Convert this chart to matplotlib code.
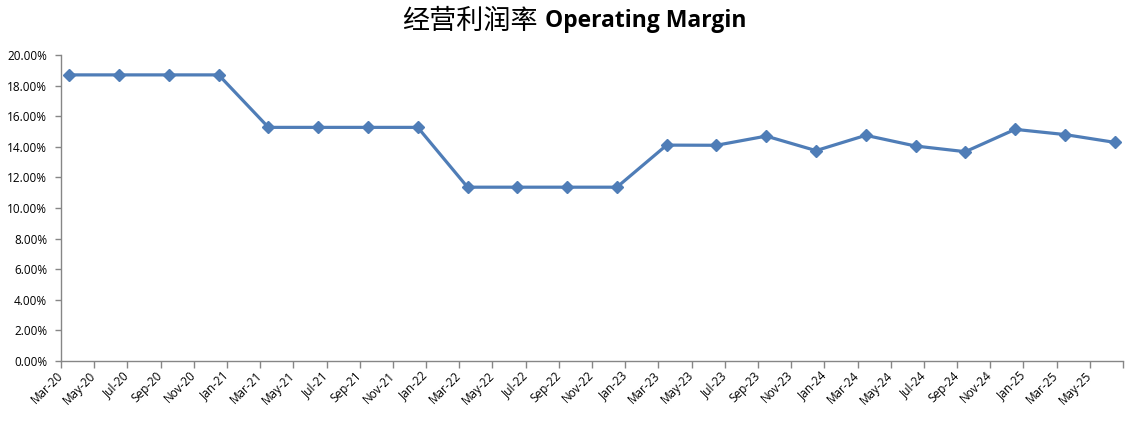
import matplotlib
matplotlib.use("Agg")
import matplotlib.pyplot as plt
import matplotlib.ticker as mticker
import matplotlib.transforms as mtrans
import pandas as pd

# ---- data ----
quarters = ["2020-03", "2020-06", "2020-09", "2020-12",
            "2021-03", "2021-06", "2021-09", "2021-12",
            "2022-03", "2022-06", "2022-09", "2022-12",
            "2023-03", "2023-06", "2023-09", "2023-12",
            "2024-03", "2024-06", "2024-09", "2024-12",
            "2025-03", "2025-06"]
operating_margin = [0.1870, 0.1870, 0.1870, 0.1870,
                    0.1527, 0.1527, 0.1527, 0.1527,
                    0.1136, 0.1136, 0.1136, 0.1136,
                    0.1411, 0.1410, 0.1470, 0.1375,
                    0.1475, 0.1405, 0.1368, 0.1514,
                    0.1480, 0.1429]
axis_start = "2020-03"
axis_end = "2025-07"
tick_step_months = 2
title_cn = "经营利润率"
title_en = "Operating Margin"

# ---- positions in month units (Excel date axis, base unit = month) ----
start = pd.Period(axis_start, freq="M")
end = pd.Period(axis_end, freq="M")
xs = [(pd.Period(q, freq="M") - start).n + 0.5 for q in quarters]
n_months = (end - start).n
tick_pos = list(range(0, n_months + 1, tick_step_months))
tick_labels = [(start + p).strftime("%b-%y") for p in tick_pos]
tick_labels[-1] = ""

fig = plt.figure(figsize=(11.33, 4.21), dpi=100)
ax = fig.add_axes([61 / 1133, 1 - 361 / 421, (1123 - 61) / 1133, (361 - 55) / 421])

ax.plot(xs, operating_margin, color="#4F7DB7", lw=2.3, marker="D", ms=6,
        markerfacecolor="#4F7DB7", markeredgecolor="#4F7DB7", zorder=3)

ax.set_xlim(0, n_months)
ax.set_ylim(0, 0.20)
ax.yaxis.set_major_locator(mticker.MultipleLocator(0.02))
ax.yaxis.set_major_formatter(mticker.FuncFormatter(lambda v, p: f"{v*100:.2f}%"))
ax.set_xticks(tick_pos)
ax.set_xticklabels(tick_labels, rotation=45, ha="right", va="center",
                   rotation_mode="anchor", fontsize=8.5, family="Open Sans")
offset = mtrans.ScaledTranslation(13 / 100, 1 / 100, fig.dpi_scale_trans)
for lab in ax.get_xticklabels():
    lab.set_transform(lab.get_transform() + offset)
for lab in ax.get_yticklabels():
    lab.set_family("Open Sans")
    lab.set_fontsize(8.5)

for s in ["top", "right"]:
    ax.spines[s].set_visible(False)
for s in ["left", "bottom"]:
    ax.spines[s].set_color("#868686")
    ax.spines[s].set_linewidth(1.0)
ax.tick_params(axis="both", colors="#868686", labelcolor="black", width=1)
ax.tick_params(axis="x", length=5, pad=4)
ax.tick_params(axis="y", length=4, pad=6)

fig.text(538 / 1133, 1 - 21 / 421, title_cn, ha="right", va="center",
         fontsize=19.5, family="Noto Sans CJK SC")
fig.text(545 / 1133, 1 - 21 / 421, title_en, ha="left", va="center",
         fontsize=16.5, family="Open Sans", fontweight="bold")

fig.savefig("out.png", dpi=100, facecolor="white")
